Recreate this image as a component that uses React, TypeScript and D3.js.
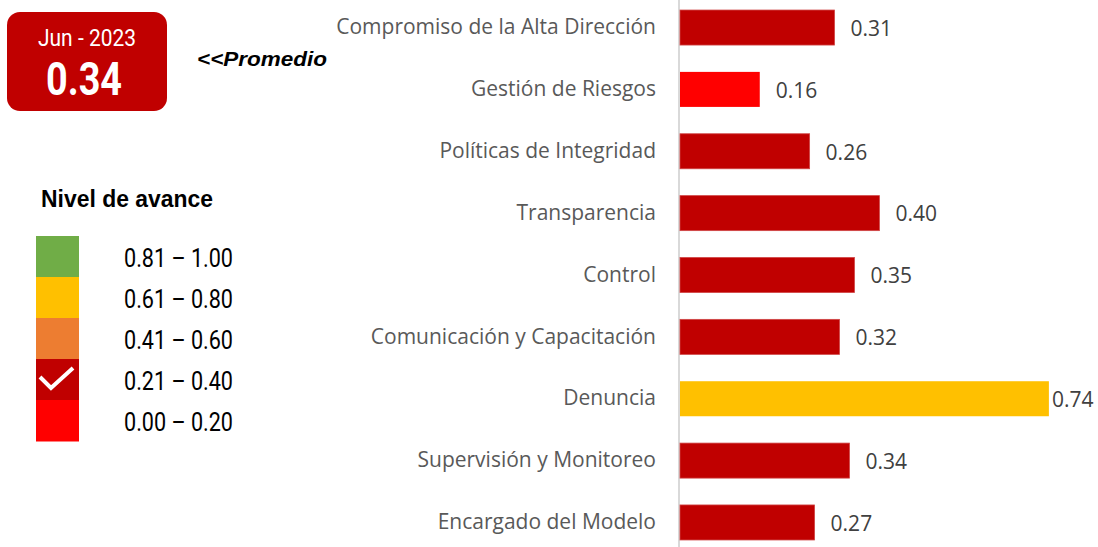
import React from 'react';
import * as d3 from 'd3';

const categories = [
  'Compromiso de la Alta Dirección',
  'Gestión de Riesgos',
  'Políticas de Integridad',
  'Transparencia',
  'Control',
  'Comunicación y Capacitación',
  'Denuncia',
  'Supervisión y Monitoreo',
  'Encargado del Modelo',
];
const values = [0.31, 0.16, 0.26, 0.4, 0.35, 0.32, 0.74, 0.34, 0.27];

const levelLabels = ['0.81 – 1.00', '0.61 – 0.80', '0.41 – 0.60', '0.21 – 0.40', '0.00 – 0.20'];
const levelColors = ['#70AD47', '#FFC000', '#ED7D31', '#C00000', '#FF0000'];
const levelBreaks = [0.205, 0.405, 0.605, 0.805];

const period = 'Jun - 2023';
const average = 0.34;

const W = 1098;
const H = 547;

const narrow = '"Liberation Sans Narrow", Roboto, sans-serif';
const arial = '"Liberation Sans", Arial, sans-serif';
const calibri = '"Open Sans", "Noto Sans", sans-serif';

const App = () => {
  const x = d3.scaleLinear().domain([0, 1]).range([680, 680 + 498.5]);
  const y = d3
    .scaleBand<string>()
    .domain(categories)
    .range([-3.4, 553.4])
    .paddingInner(0.434)
    .paddingOuter(0.217);
  // colour of each bar depends on its level range
  const color = d3
    .scaleThreshold<number, string>()
    .domain(levelBreaks)
    .range([...levelColors].reverse());

  const legendY = d3.scaleBand<string>().domain(levelLabels).range([236, 441]);
  const avgRow = levelLabels[levelColors.length - 1 - levelBreaks.filter((b) => average >= b).length];
  const checkY = legendY(avgRow) as number;

  const fmt = d3.format('.2f');

  return (
    <svg width={W} height={H} style={{ position: 'absolute', left: 0, top: 0, display: 'block', background: '#fff' }}>
      {/* average box */}
      <rect x={7} y={12} width={160} height={99} rx={13} fill={color(average)} />
      <text x={38} y={46} fill='#fff' fontFamily={narrow} fontSize={24} textLength={98} lengthAdjust='spacingAndGlyphs'>
        {period}
      </text>
      <text x={46} y={95} fill='#fff' fontFamily={narrow} fontWeight='bold' fontSize={46} textLength={76} lengthAdjust='spacingAndGlyphs'>
        {fmt(average)}
      </text>
      <text x={197} y={66} fill='#000' fontFamily={arial} fontWeight='bold' fontStyle='italic' fontSize={20} textLength={130} lengthAdjust='spacingAndGlyphs'>
        {'<<Promedio'}
      </text>

      {/* legend */}
      <text x={41} y={207} fill='#000' fontFamily={arial} fontWeight='bold' fontSize={23} textLength={172} lengthAdjust='spacingAndGlyphs'>
        Nivel de avance
      </text>
      {levelLabels.map((l, i) => (
        <g key={l}>
          <rect x={36} y={legendY(l)} width={43} height={legendY.bandwidth() + 0.5} fill={levelColors[i]} />
          <text
            x={124}
            y={(legendY(l) as number) + legendY.bandwidth() / 2 + 10}
            fill='#000'
            fontFamily={narrow}
            fontSize={25}
            textLength={109}
            lengthAdjust='spacingAndGlyphs'
          >
            {l}
          </text>
        </g>
      ))}
      <polyline
        points={[
          [40, checkY + 18],
          [51, checkY + 29],
          [73, checkY + 9],
        ]
          .map((p) => p.join(','))
          .join(' ')}
        fill='none'
        stroke='#fff'
        strokeWidth={4}
      />

      {/* bars */}
      <line x1={679} x2={679} y1={0} y2={H} stroke='#d9d9d9' strokeWidth={2} />
      {categories.map((c, i) => {
        const v = values[i];
        const yc = (y(c) as number) + y.bandwidth() / 2;
        const end = x(v);
        const lx = end + 16 + 46 > W ? end + 3 : end + 16;
        return (
          <g key={c}>
            <rect
              x={x(0)}
              y={y(c)}
              width={end - x(0)}
              height={y.bandwidth()}
              fill={color(v)}
              stroke={color(v) === '#C00000' ? '#d04545' : 'none'}
              strokeWidth={0.8}
            />
            <text x={656} y={yc} dy='0.32em' textAnchor='end' fill='#595959' fontFamily={calibri} fontSize={21}>
              {c}
            </text>
            <text x={lx} y={yc + 1} dy='0.35em' fill='#404040' fontFamily={calibri} fontSize={21}>
              {fmt(v)}
            </text>
          </g>
        );
      })}
    </svg>
  );
};

export default App;
